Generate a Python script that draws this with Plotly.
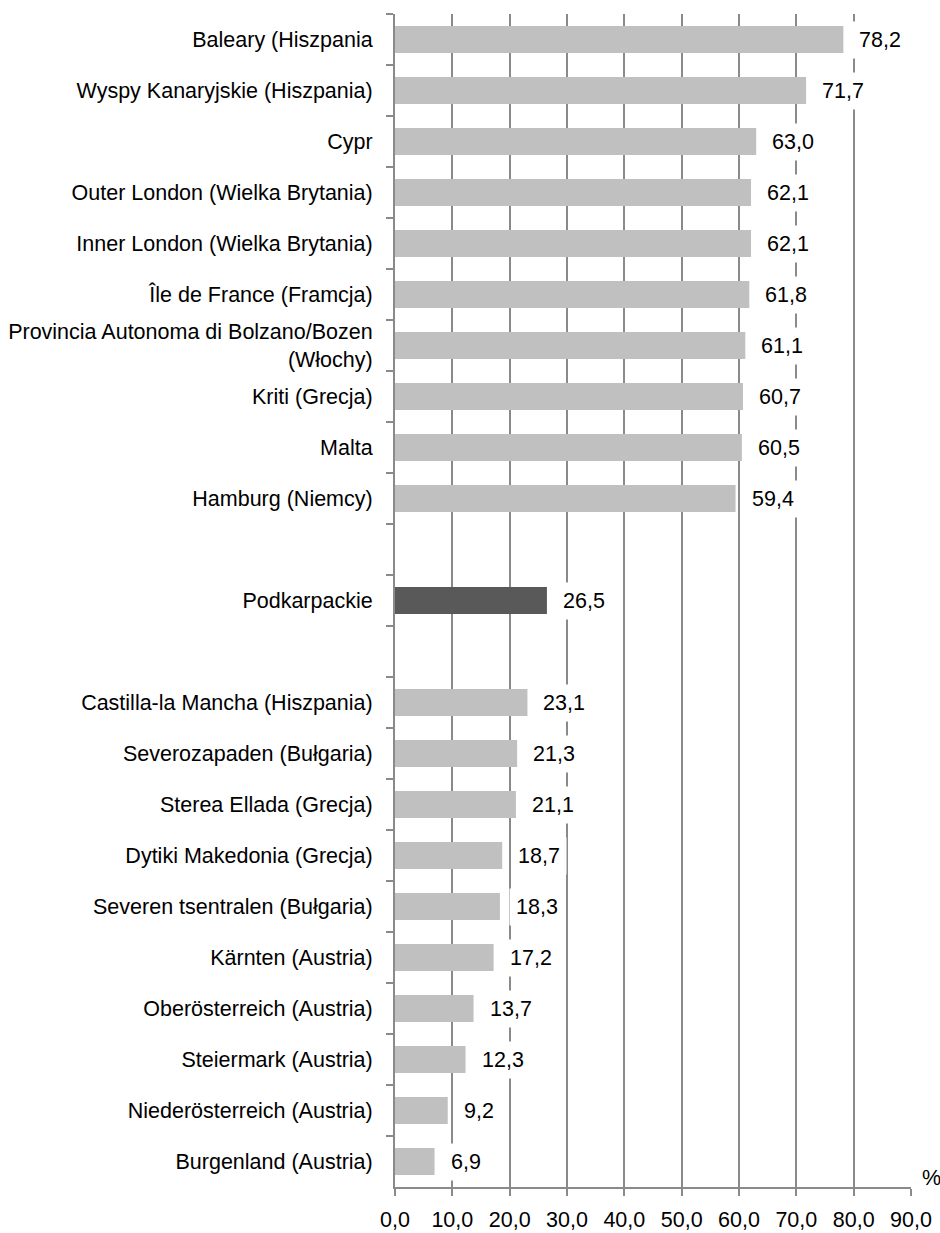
import plotly.graph_objects as go

# regions with the highest rate (top block), Podkarpackie, lowest rate (bottom block)
top_regions = ["Baleary (Hiszpania", "Wyspy Kanaryjskie (Hiszpania)", "Cypr",
               "Outer London (Wielka Brytania)", "Inner London (Wielka Brytania)",
               "Île de France (Framcja)",
               "Provincia Autonoma di Bolzano/Bozen<br>(Włochy)",
               "Kriti (Grecja)", "Malta", "Hamburg (Niemcy)"]
top_values = [78.2, 71.7, 63.0, 62.1, 62.1, 61.8, 61.1, 60.7, 60.5, 59.4]

pl_region = "Podkarpackie"
pl_value = 26.5

bottom_regions = ["Castilla-la Mancha (Hiszpania)", "Severozapaden (Bułgaria)",
                  "Sterea Ellada (Grecja)", "Dytiki Makedonia (Grecja)",
                  "Severen tsentralen (Bułgaria)", "Kärnten (Austria)",
                  "Oberösterreich (Austria)", "Steiermark (Austria)",
                  "Niederösterreich (Austria)", "Burgenland (Austria)"]
bottom_values = [23.1, 21.3, 21.1, 18.7, 18.3, 17.2, 13.7, 12.3, 9.2, 6.9]

x_ticks = [0, 10, 20, 30, 40, 50, 60, 70, 80, 90]

LIGHT = "#c0c0c0"
DARK = "#595959"
GRID = "#8a8a8a"
FONT = "Liberation Sans, Arial, sans-serif"
FS = 21.5

# empty slots around Podkarpackie
categories = top_regions + [" "] + [pl_region] + ["  "] + bottom_regions
values = top_values + [None] + [pl_value] + [None] + bottom_values
colors = [LIGHT] * len(top_regions) + [LIGHT, DARK, LIGHT] + [LIGHT] * len(bottom_regions)

fig = go.Figure(go.Bar(
    x=values, y=categories, orientation="h",
    marker=dict(color=colors, line=dict(width=0)),
    hoverinfo="x+y",
))

for cat, val in zip(categories, values):
    if val is None:
        continue
    fig.add_annotation(
        x=val, y=cat, xref="x", yref="y",
        text=f"{val:.1f}".replace(".", ","),
        showarrow=False, xanchor="left", yanchor="middle",
        xshift=9, bgcolor="white", borderpad=6,
        font=dict(family=FONT, size=FS, color="#000000"),
    )

fig.add_annotation(
    x=1, y=0, xref="paper", yref="paper", text="%",
    showarrow=False, xanchor="left", yanchor="bottom",
    xshift=9, yshift=-5,
    font=dict(family=FONT, size=FS, color="#000000"),
)

fig.update_xaxes(
    range=[0, 90], tickvals=x_ticks, tickformat=".1f",
    showgrid=True, gridcolor=GRID, gridwidth=1.5,
    showline=True, linecolor=GRID, linewidth=2,
    ticks="outside", ticklen=7, tickcolor=GRID, tickwidth=2,
    ticklabelstandoff=5, zeroline=False, automargin=False,
    tickfont=dict(family=FONT, size=FS, color="#000000"),
)
fig.update_yaxes(
    categoryorder="array", categoryarray=categories, autorange="reversed",
    tickson="boundaries", ticks="outside", ticklen=7, tickcolor=GRID, tickwidth=2,
    showline=True, linecolor=GRID, linewidth=2, showgrid=False,
    ticklabelstandoff=16, automargin=False,
    tickfont=dict(family=FONT, size=FS, color="#000000"),
)

fig.update_layout(
    width=940, height=1233,
    margin=dict(l=395, r=29, t=14, b=46, autoexpand=False),
    plot_bgcolor="white", paper_bgcolor="white",
    bargap=0.475, separators=", ",
    showlegend=False,
    font=dict(family=FONT, size=FS, color="#000000"),
)

# drop the default 8px page margin so the figure sits at the window's corner
fig.write_html("out.html", config={"displayModeBar": False},
               post_script="document.body.style.margin='0';")
